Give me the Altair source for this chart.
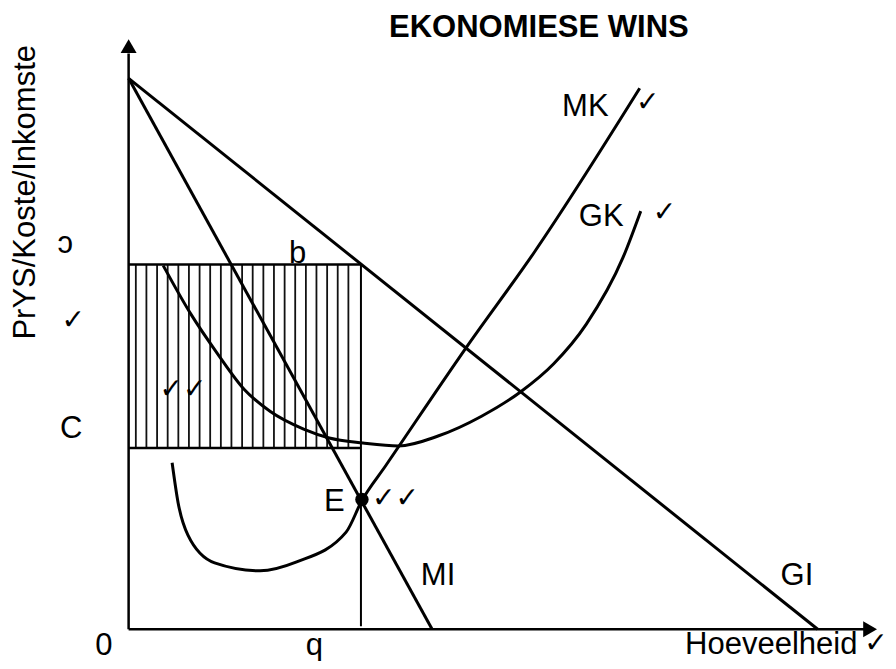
import altair as alt
import pandas as pd

# ---------------- data (Q = quantity units, P = price units) ----------------
gi_q = [0.0, 69.7]
gi_p = [55.6, 0.0]
mi_q = [0.0, 30.7]
mi_p = [55.6, 0.0]
mk_q = [4.4, 5.0, 6.0, 8.7, 13.3, 17.0, 22.0, 23.6, 26.0, 34.2, 41.0, 51.7]
mk_p = [16.8, 12.8, 9.5, 6.7, 5.9, 6.8, 9.8, 13.0, 16.5, 28.5, 38.0, 54.6]
gk_q = [3.5, 6.3, 9.0, 11.7, 14.3, 17.7, 20.3, 23.7, 27.3, 31.3, 35.7, 39.7, 43.0, 46.3, 50.0, 51.8]
gk_p = [36.7, 31.8, 27.8, 24.2, 22.0, 20.2, 19.3, 18.8, 18.5, 19.5, 21.5, 24.0, 26.8, 30.8, 37.5, 42.2]
e_q, e_p = 23.6, 13.1
q_star = 23.5
price_b = 36.8
cost_c = 18.3
hatch_q = [0.73, 1.80, 2.88, 3.95, 5.03, 6.10, 7.18, 8.25, 9.33, 10.40, 11.48,
           12.55, 13.63, 14.70, 15.78, 16.85, 17.93, 19.00, 20.08, 21.15, 22.23]
axis_q_max, axis_p_max = 74.4, 58.1
arrow_q, arrow_p = 75.0, 58.85

labels = ["EKONOMIESE WINS", "b", "C", "E", "MK", "GK", "MI", "GI", "0", "q", "Hoeveelheid", "ɔ"]
label_q = [41.5, 17.1, -5.8, 20.8, 46.2, 47.8, 31.3, 67.6, -2.5, 18.8, 65.0, -6.4]
label_p = [59.8, 37.0, 19.3, 11.9, 51.8, 40.7, 4.5, 4.5, -2.6, -2.6, -2.5, 38.0]

checks = ["✓", "✓✓", "✓✓", "✓", "✓", "✓"]
check_q = [-5.6, 5.5, 27.0, 52.5, 54.2, 75.6]
check_p = [30.3, 23.3, 12.3, 52.3, 41.2, -2.3]

y_title = "PrYS/Koste/Inkomste"
y_title_q, y_title_p = -10.4, 44.1

# ---------------- scales ----------------
XS = alt.Scale(domain=[-12.2, 75.8], nice=False, zero=False)
YS = alt.Scale(domain=[-2.6, 62.7], nice=False, zero=False)


def X(f="q"):
    return alt.X(f"{f}:Q", scale=XS, axis=None)


def Y(f="p"):
    return alt.Y(f"{f}:Q", scale=YS, axis=None)


def line(qs, ps, width=3, interp="linear"):
    df = pd.DataFrame({"q": qs, "p": ps, "i": range(len(qs))})
    return alt.Chart(df).mark_line(color="black", strokeWidth=width, interpolate=interp).encode(
        x=X(), y=Y(), order="i:O")


layers = []
# axes
layers.append(alt.Chart(pd.DataFrame({"q": [0.0], "p": [0.0], "p2": [axis_p_max]})).mark_rule(
    color="black", strokeWidth=2.5).encode(x=X(), y=Y(), y2="p2:Q"))
layers.append(alt.Chart(pd.DataFrame({"q": [0.0], "q2": [axis_q_max], "p": [0.0]})).mark_rule(
    color="black", strokeWidth=2.5).encode(x=X(), x2="q2:Q", y=Y()))
layers.append(alt.Chart(pd.DataFrame({"q": [0.0], "p": [arrow_p]})).mark_point(
    shape="triangle-up", size=256, filled=True, color="black", opacity=1).encode(x=X(), y=Y()))
layers.append(alt.Chart(pd.DataFrame({"q": [arrow_q], "p": [0.0]})).mark_point(
    shape="triangle-right", size=256, filled=True, color="black", opacity=1).encode(x=X(), y=Y()))

# hatching of profit area
layers.append(alt.Chart(pd.DataFrame({"q": hatch_q, "p": [cost_c] * len(hatch_q),
                                      "p2": [price_b] * len(hatch_q)})).mark_rule(
    color="#111", strokeWidth=1.8).encode(x=X(), y=Y(), y2="p2:Q"))
# rectangle borders
layers.append(alt.Chart(pd.DataFrame({"q": [0.0, 0.0], "q2": [q_star, q_star],
                                      "p": [price_b, cost_c]})).mark_rule(
    color="black", strokeWidth=2.5).encode(x=X(), x2="q2:Q", y=Y()))
layers.append(alt.Chart(pd.DataFrame({"q": [q_star], "p": [0.3], "p2": [price_b]})).mark_rule(
    color="black", strokeWidth=2).encode(x=X(), y=Y(), y2="p2:Q"))

# curves
layers.append(line(gi_q, gi_p))
layers.append(line(mi_q, mi_p))
layers.append(line(mk_q, mk_p, interp="monotone"))
layers.append(line(gk_q, gk_p, interp="monotone"))

# equilibrium point
layers.append(alt.Chart(pd.DataFrame({"q": [e_q], "p": [e_p]})).mark_point(
    shape="circle", size=180, filled=True, color="black", opacity=1).encode(x=X(), y=Y()))

# labels
lab_df = pd.DataFrame({"t": labels, "q": label_q, "p": label_p,
                       "w": ["bold"] + ["normal"] * (len(labels) - 1)})
layers.append(alt.Chart(lab_df[lab_df.w == "normal"]).mark_text(
    font="Liberation Sans", fontSize=31, align="center", baseline="alphabetic", color="black").encode(
    x=X(), y=Y(), text="t:N"))
layers.append(alt.Chart(lab_df[lab_df.w == "bold"]).mark_text(
    font="Liberation Sans", fontSize=31, fontWeight="bold", align="center", baseline="alphabetic",
    color="black").encode(x=X(), y=Y(), text="t:N"))
layers.append(alt.Chart(pd.DataFrame({"t": checks, "q": check_q, "p": check_p})).mark_text(
    font="DejaVu Sans", fontSize=28, align="center", baseline="alphabetic", color="black").encode(
    x=X(), y=Y(), text="t:N"))
layers.append(alt.Chart(pd.DataFrame({"t": [y_title], "q": [y_title_q], "p": [y_title_p]})).mark_text(
    font="Liberation Sans", fontSize=31, align="center", baseline="middle", angle=270,
    color="black").encode(x=X(), y=Y(), text="t:N"))

chart = alt.layer(*layers).properties(
    width=880, height=653, padding=0,
    autosize=alt.AutoSizeParams(type="fit", contains="padding"),
    background="white",
).configure_view(stroke=None)

chart.save("out.html", embed_options={"renderer": "svg", "actions": False})
